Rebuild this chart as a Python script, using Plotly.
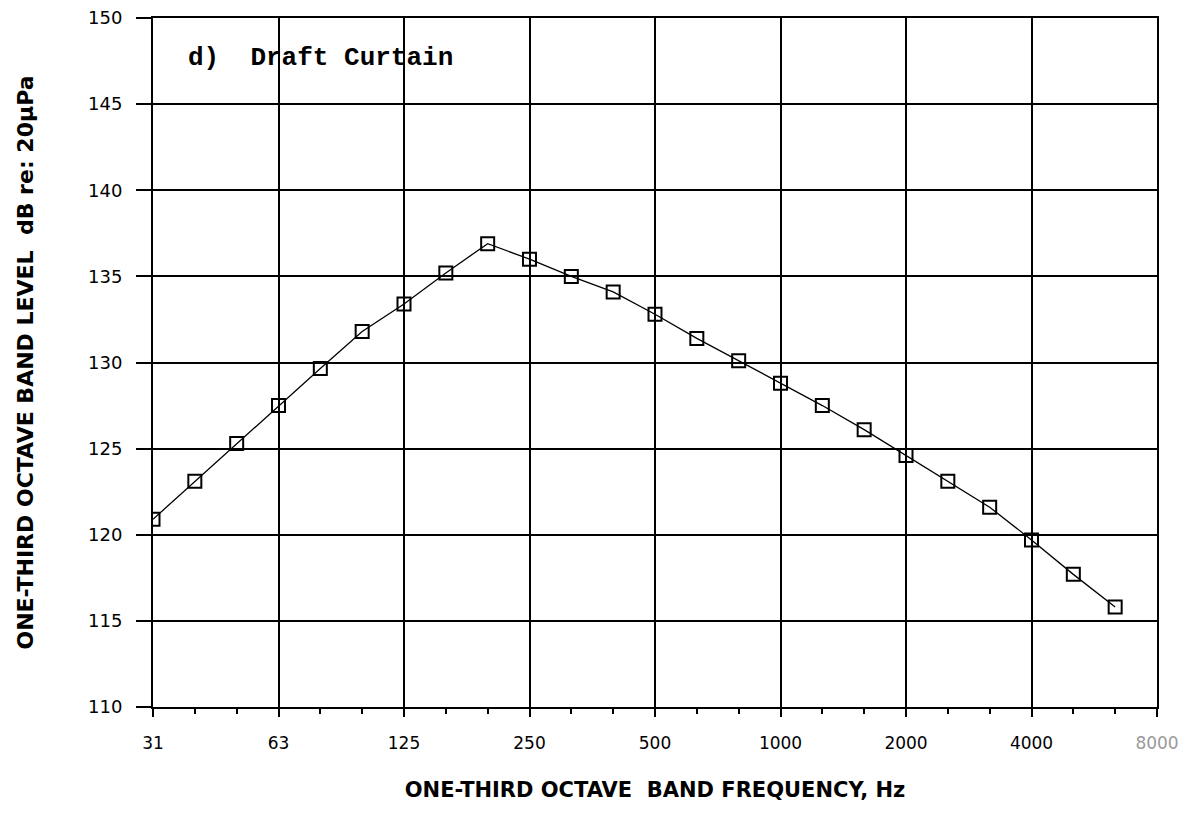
import plotly.graph_objects as go

# One-third octave band centre frequencies (Hz), nominal labels
bands = ["31.5", "40", "50", "63", "80", "100", "125", "160", "200", "250",
         "315", "400", "500", "630", "800", "1000", "1250", "1600", "2000",
         "2500", "3150", "4000", "5000", "6300", "8000"]
# Measured band levels, dB re 20 uPa (last band has no data)
levels = [120.9, 123.1, 125.3, 127.5, 129.65, 131.8, 133.4, 135.2, 136.9, 136.0,
          135.0, 134.1, 132.8, 131.4, 130.1, 128.8, 127.5, 126.1, 124.6,
          123.1, 121.6, 119.7, 117.7, 115.8]
tick_labels = ["31", "63", "125", "250", "500", "1000", "2000", "4000",
               "<span style='color:#9a9a9a'>8000</span>"]
y_ticks = [110, 115, 120, 125, 130, 135, 140, 145, 150]

band_pos = list(range(len(bands)))
x_data = band_pos[:len(levels)]
tick_pos = band_pos[::3]

fig = go.Figure()
fig.add_trace(go.Scatter(
    x=x_data, y=levels, mode="lines+markers",
    line=dict(color="black", width=1.3),
    marker=dict(symbol="square-open", size=13, color="black", line=dict(width=2)),
    showlegend=False,
))

fig.update_layout(
    width=1196, height=814,
    margin=dict(l=145, r=47, t=10, b=115),
    paper_bgcolor="white", plot_bgcolor="white",
    font=dict(family="DejaVu Sans, sans-serif", color="black"),
    xaxis=dict(
        range=[0, len(bands) - 1],
        automargin=False,
        tickmode="array", tickvals=tick_pos, ticktext=tick_labels,
        showgrid=True, gridcolor="black", gridwidth=2,
        showline=True, linecolor="black", linewidth=2, mirror=True,
        ticks="outside", ticklen=8, tickwidth=2, tickcolor="black",
        minor=dict(dtick=1, tick0=0, ticks="outside", ticklen=5, tickwidth=1.5,
                   tickcolor="black", showgrid=False),
        tickfont=dict(size=17, color="black"),
        ticklabelstandoff=12,
        ticklabeloverflow="allow",
        zeroline=False,
        title=dict(text="<b>ONE-THIRD OCTAVE  BAND FREQUENCY, Hz</b>",
                   font=dict(size=21, color="black"),
                   standoff=30),
    ),
    yaxis=dict(
        range=[110, 150],
        automargin=False,
        tickmode="array", tickvals=y_ticks,
        showgrid=True, gridcolor="black", gridwidth=2,
        showline=True, linecolor="black", linewidth=2, mirror=True,
        ticks="outside", ticklen=15, tickwidth=2, tickcolor="black",
        tickfont=dict(size=18, color="black"),
        ticklabelstandoff=10,
        ticklabeloverflow="allow",
        zeroline=False,
        title=dict(text="<b>ONE-THIRD OCTAVE BAND LEVEL  dB re: 20μPa</b>",
                   font=dict(size=22, color="black"),
                   standoff=48),
    ),
)

fig.add_annotation(
    x=0, y=147.7, xref="x", yref="y",
    text="<b>d)  Draft Curtain</b>", showarrow=False, xanchor="left", yanchor="middle",
    font=dict(family="Liberation Mono, DejaVu Sans Mono, monospace", size=26, color="black"),
    xshift=33,
)

fig.write_html("out.html")
